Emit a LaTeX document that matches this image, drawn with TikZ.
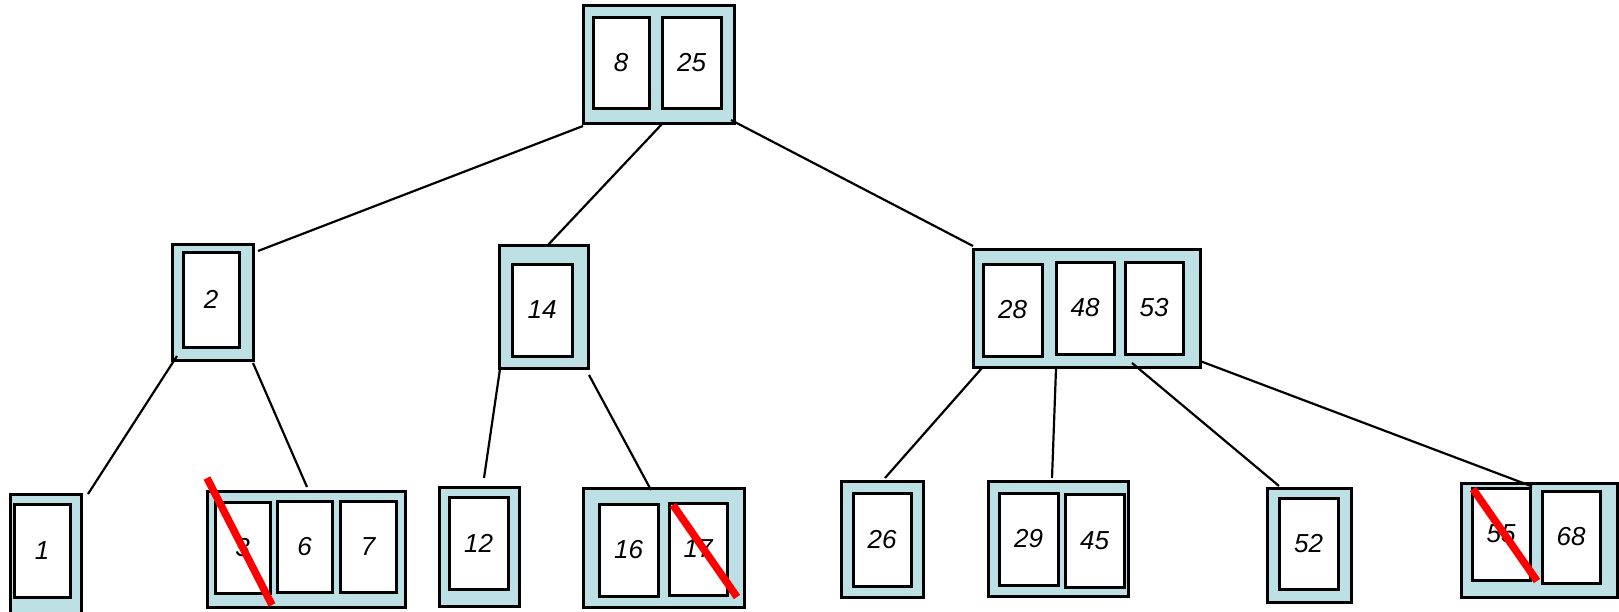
\documentclass[tikz,border=0pt]{standalone}
\usepackage{fontspec}
\setmainfont{Liberation Sans}
\usetikzlibrary{calc}
\definecolor{boxfill}{RGB}{188,224,228}
\tikzset{
  outerbox/.style={draw=black, line width=3pt, fill=boxfill, inner sep=0pt, outer sep=0pt},
  keybox/.style={draw=black, line width=3pt, fill=white, inner sep=0pt, outer sep=0pt,
    font=\fontsize{26}{30}\selectfont\itshape},
  edge/.style={line width=2.2pt, black},
  strike/.style={line width=7.5pt, red}
}
\newcommand{\ob}[4]{\node[outerbox, minimum width=#3pt, minimum height=#4pt] (#1) at #2 {};}
\newcommand{\kb}[5]{\node[keybox, minimum width=#3pt, minimum height=#4pt] (#1) at #2 {#5};}
\begin{document}
\begin{tikzpicture}[x=1pt,y=-1pt]
\useasboundingbox (0,0) rectangle (1619,611);
\clip (0,0) rectangle (1619,611);
% root
\ob{root}{(658.5,64)}{151}{118}
\kb{k8}{(621,62.5)}{56}{91}{8}
\kb{k25}{(691.5,62.5)}{59}{91}{25}
% level 1
\ob{n2}{(212.5,302)}{81}{116}
\kb{k2}{(211,299.5)}{56}{95}{2}
\ob{n14}{(543.5,306.5)}{89}{123}
\kb{k14}{(542,310)}{60}{92}{14}
\ob{n28}{(1086.5,308)}{227}{118}
\kb{k28}{(1012.5,310)}{59}{92}{28}
\kb{k48}{(1085,308)}{58}{92}{48}
\kb{k53}{(1154,308)}{58}{92}{53}
% leaves
\ob{n1}{(45.5,556)}{71}{124}
\kb{k1}{(42,550.5)}{56}{93}{1}
\ob{n367}{(306,549)}{198}{116}
\kb{k3}{(242.5,547.5)}{55}{91}{3}
\kb{k6}{(304.5,546.5)}{55}{91}{6}
\kb{k7}{(368,546.5)}{56}{91}{7}
\ob{n12}{(479,546.5)}{80}{119}
\kb{k12}{(478.5,543)}{59}{92}{12}
\ob{n1617}{(663.5,547.5)}{161}{119}
\kb{k16}{(628.5,550)}{59}{92}{16}
\kb{k17}{(698,549)}{58}{92}{17}
\ob{n26}{(882,539)}{82}{116}
\kb{k26}{(882,539.5)}{58}{93}{26}
\ob{n2945}{(1058,538.5)}{140}{115}
\kb{k29}{(1028.5,539)}{59}{92}{29}
\kb{k45}{(1094.5,540.5)}{59}{93}{45}
\ob{n52}{(1309,545)}{84}{114}
\kb{k52}{(1308.5,543.5)}{59}{91}{52}
\ob{n5568}{(1539,540)}{156}{114}
\kb{k55}{(1501,534)}{58}{92}{55}
\kb{k68}{(1571,537)}{58}{92}{68}
% connectors
\draw[edge] ($(root.south west)+(0,3)$) -- ($(n2.north east)+(5,7)$);
\draw[edge] ($(root.south)+(3.5,1)$) -- ($(n14.north)+(3.5,1)$);
\draw[edge] ($(root.south east)+(-3,-3)$) -- ($(n28.north west)+(0,-3)$);
\draw[edge] ($(n2.south west)+(5,-4)$) -- ($(n1.north east)+(7,0)$);
\draw[edge] ($(n2.south east)+(0,3)$) -- ($(n367.north)+(1,-4)$);
\draw[edge] ($(n14.south west)+(1,1)$) -- ($(n12.north)+(5,-9)$);
\draw[edge] ($(n14.south east)+(1,7)$) -- ($(n1617.north)+(-12.5,2)$);
\draw[edge] ($(n28.south west)+(9,1)$) -- ($(n26.north)+(3,-3)$);
\draw[edge] ($(n28.south)+(-30.5,2)$) -- ($(n2945.north)+(-6,-3)$);
\draw[edge] ($(n28.south)+(45.5,-4)$) -- ($(n52.north west)+(12,-2)$);
\draw[edge] ($(n28.south east)+(0,-6)$) -- ($(n5568.north)+(-8,3)$) -- ($(k55.north east)+(1,0)$);
% strike-throughs
\draw[strike] ($(k3.north west)+(-8,-24)$) -- ($(k3.south east)+(2,12)$);
\draw[strike] ($(k17.north west)+(4,2)$) -- ($(k17.south east)+(10,2)$);
\draw[strike] ($(k55.north west)+(1,1)$) -- ($(k55.south east)+(7,1)$);
\end{tikzpicture}
\end{document}
